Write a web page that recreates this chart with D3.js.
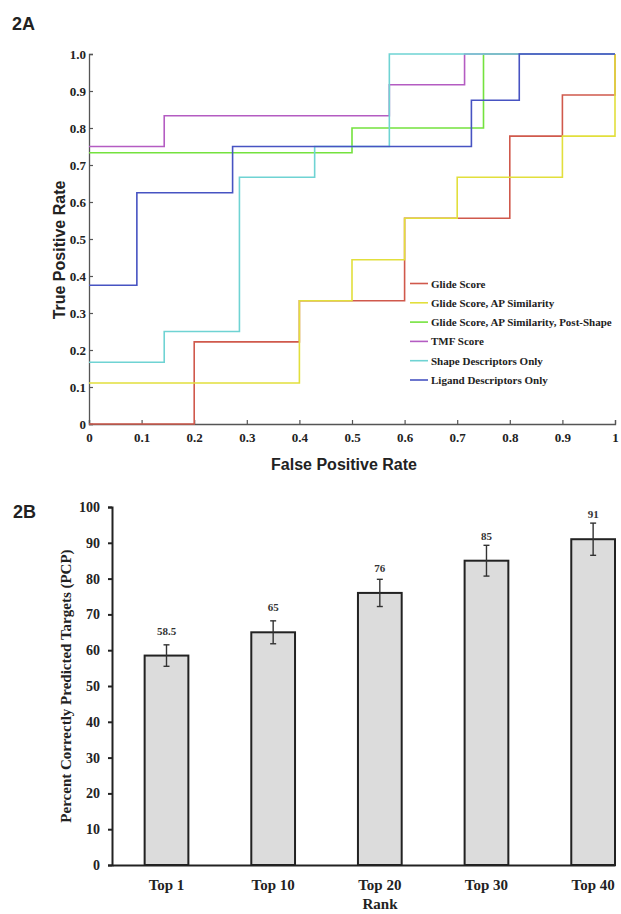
<!DOCTYPE html>
<html><head><meta charset="utf-8">
<script src="https://cdn.jsdelivr.net/npm/d3@7"></script>
<style>body{margin:0;background:#fff}svg{display:block}</style>
</head><body>
<script>
// ---------- Panel A data (ROC step curves) ----------
const seriesNames = ["Glide Score","Glide Score, AP Similarity","Glide Score, AP Similarity, Post-Shape","TMF Score","Shape Descriptors Only","Ligand Descriptors Only"];
const seriesColors = ["#d0594c","#e2df3c","#74e23e","#b45cc2","#6fd3d3","#4753c2"];
const glideFPR = [0, 0.2, 0.4, 0.6, 0.8, 0.9, 1];
const glideTPR = [0, 0.222, 0.333, 0.556, 0.778, 0.889, 1.0];
const apFPR = [0, 0.4, 0.5, 0.6, 0.7, 0.9, 1];
const apTPR = [0.111, 0.333, 0.444, 0.556, 0.667, 0.778, 1.0];
const postFPR = [0, 0.5, 0.75, 1];
const postTPR = [0.733, 0.8, 1.0, 1.0];
const tmfFPR = [0, 0.143, 0.571, 0.714, 1];
const tmfTPR = [0.75, 0.833, 0.917, 1.0, 1.0];
const shapeFPR = [0, 0.143, 0.286, 0.429, 0.571, 1];
const shapeTPR = [0.167, 0.25, 0.667, 0.75, 1.0, 1.0];
const ligandFPR = [0, 0.091, 0.273, 0.727, 0.818, 1];
const ligandTPR = [0.375, 0.625, 0.75, 0.875, 1.0, 1.0];
const xTicksA = [0,0.1,0.2,0.3,0.4,0.5,0.6,0.7,0.8,0.9,1];
const xTickLabelsA = ["0","0.1","0.2","0.3","0.4","0.5","0.6","0.7","0.8","0.9","1"];
const yTicksA = [0,0.1,0.2,0.3,0.4,0.5,0.6,0.7,0.8,0.9,1];
const yTickLabelsA = ["0","0.1","0.2","0.3","0.4","0.5","0.6","0.7","0.8","0.9","1.0"];

// ---------- Panel B data ----------
const ranks = ["Top 1","Top 10","Top 20","Top 30","Top 40"];
const pcp = [58.5, 65, 76, 85, 91];
const pcpErr = [3.0, 3.2, 3.8, 4.3, 4.5];
const pcpLabels = ["58.5","65","76","85","91"];
const yTicksB = [0,10,20,30,40,50,60,70,80,90,100];

const svg = d3.select("body").append("svg").attr("width",621).attr("height",914);
const serif = "'Liberation Serif','Times New Roman',serif";
const sans = "'Liberation Sans',Arial,sans-serif";

// ===== Panel A =====
const xA = d3.scaleLinear().domain([0,1]).range([89,615]);
const yA = d3.scaleLinear().domain([0,1]).range([424,54]);

svg.append("text").attr("x",12).attr("y",30).attr("font-family",sans).attr("font-weight","bold")
  .attr("font-size",18).attr("fill","#222").text("2A");

const axA = svg.append("g");
const xAxisA = axA.append("g").attr("transform","translate(0,424)")
  .call(d3.axisBottom(xA).tickValues(xTicksA).tickSize(-4).tickPadding(9).tickFormat((d,i)=>xTickLabelsA[i]));
const yAxisA = axA.append("g").attr("transform","translate(89,0)")
  .call(d3.axisLeft(yA).tickValues(yTicksA).tickSize(-4).tickPadding(4).tickFormat((d,i)=>yTickLabelsA[i]));
[xAxisA,yAxisA].forEach(g=>{
  g.select(".domain").attr("stroke","#555").attr("stroke-width",1.3);
  g.selectAll(".tick line").attr("stroke","#555").attr("stroke-width",1.2);
  g.selectAll(".tick text").attr("font-family",serif).attr("font-weight","bold").attr("font-size",13).attr("fill","#222");
});
yAxisA.selectAll(".tick text").attr("x",-3);

const seriesA = [
  [glideFPR,glideTPR],[apFPR,apTPR],[postFPR,postTPR],[tmfFPR,tmfTPR],[shapeFPR,shapeTPR],[ligandFPR,ligandTPR]
];
const lineA = d3.line().x(d=>xA(d[0])).y(d=>yA(d[1])).curve(d3.curveStepAfter);
seriesA.forEach((s,i)=>{
  const pts = s[0].map((x,j)=>[x,s[1][j]]);
  svg.append("path").datum(pts).attr("d",lineA).attr("fill","none")
    .attr("stroke",seriesColors[i]).attr("stroke-width",1.6);
});

// legend
const leg = svg.append("g");
seriesNames.forEach((n,i)=>{
  const cy = 283.5 + i*19.3;
  leg.append("line").attr("x1",410).attr("x2",428).attr("y1",cy).attr("y2",cy)
    .attr("stroke",seriesColors[i]).attr("stroke-width",1.6);
  leg.append("text").attr("x",431).attr("y",cy+4).attr("font-family",serif).attr("font-weight","bold")
    .attr("font-size",11).attr("fill","#222").text(n);
});

svg.append("text").attr("x",344).attr("y",470).attr("text-anchor","middle").attr("font-family",sans)
  .attr("font-weight","bold").attr("font-size",16).attr("fill","#222").text("False Positive Rate");
svg.append("text").attr("transform","translate(65,250) rotate(-90)").attr("text-anchor","middle")
  .attr("font-family",sans).attr("font-weight","bold").attr("font-size",16).attr("fill","#222").text("True Positive Rate");

// ===== Panel B =====
svg.append("text").attr("x",13).attr("y",518).attr("font-family",sans).attr("font-weight","bold")
  .attr("font-size",18).attr("fill","#222").text("2B");

const xB = d3.scaleBand().domain(ranks).range([112,615]).paddingInner(0.59).paddingOuter(0.153).align(1);
const yB = d3.scaleLinear().domain([0,100]).range([865,507]);

const bars = svg.append("g");
ranks.forEach((r,i)=>{
  bars.append("rect").attr("x",xB(r)).attr("y",yB(pcp[i])).attr("width",xB.bandwidth())
    .attr("height",yB(0)-yB(pcp[i])).attr("fill","#dcdcdc").attr("stroke","#222").attr("stroke-width",2);
  const cx = xB(r)+xB.bandwidth()/2;
  bars.append("line").attr("x1",cx).attr("x2",cx).attr("y1",yB(pcp[i]+pcpErr[i])).attr("y2",yB(pcp[i]-pcpErr[i]))
    .attr("stroke","#333").attr("stroke-width",1.4);
  [pcp[i]+pcpErr[i], pcp[i]-pcpErr[i]].forEach(v=>{
    bars.append("line").attr("x1",cx-3).attr("x2",cx+3).attr("y1",yB(v)).attr("y2",yB(v))
      .attr("stroke","#333").attr("stroke-width",1.4);
  });
  bars.append("text").attr("x",cx).attr("y",yB(pcp[i])-21).attr("text-anchor","middle")
    .attr("font-family",serif).attr("font-weight","bold").attr("font-size",11).attr("fill","#333").text(pcpLabels[i]);
});

const yAxisB = svg.append("g").attr("transform","translate(112,0)")
  .call(d3.axisLeft(yB).tickValues(yTicksB).tickSize(4).tickPadding(8).tickFormat(d3.format("d")));
const xAxisB = svg.append("g").attr("transform","translate(0,865)")
  .call(d3.axisBottom(xB).tickSize(0).tickPadding(14));
[xAxisB,yAxisB].forEach(g=>{
  g.select(".domain").attr("stroke","#222").attr("stroke-width",2);
  g.selectAll(".tick line").attr("stroke","#222").attr("stroke-width",2);
  g.selectAll(".tick text").attr("font-family",serif).attr("font-weight","bold").attr("font-size",14).attr("fill","#222");
});
xAxisB.selectAll(".tick text").attr("font-size",15);

svg.append("text").attr("x",380).attr("y",909).attr("text-anchor","middle").attr("font-family",serif)
  .attr("font-weight","bold").attr("font-size",15).attr("fill","#222").text("Rank");
svg.append("text").attr("transform","translate(71,686) rotate(-90)").attr("text-anchor","middle")
  .attr("font-family",serif).attr("font-weight","bold").attr("font-size",15).attr("fill","#222")
  .text("Percent Correctly Predicted Targets (PCP)");
</script>
</body></html>
